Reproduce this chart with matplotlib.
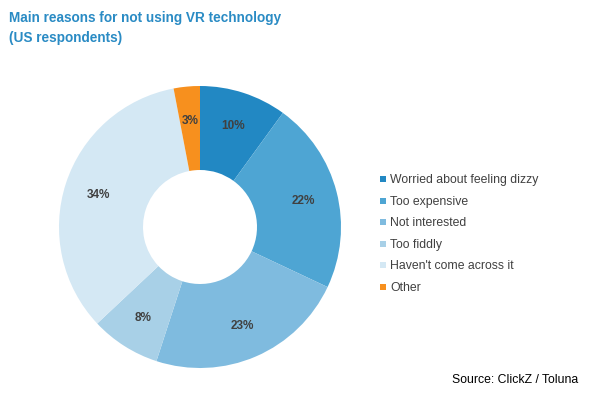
import matplotlib.pyplot as plt
from matplotlib.patches import Rectangle
import numpy as np

plt.rcParams['font.family'] = ['Liberation Sans', 'DejaVu Sans']

reasons = ["Worried about feeling dizzy", "Too expensive", "Not interested",
           "Too fiddly", "Haven't come across it", "Other"]
shares = [10, 22, 23, 8, 34, 3]
colors = ["#2288c3", "#4ea5d3", "#7fbbdf", "#a8d0e7", "#d4e8f4", "#f7901e"]

fig = plt.figure(figsize=(6, 4.06), dpi=100)
W, H = 600, 406
cx, cy, r = 200, 228, 145
ax = fig.add_axes([(cx - r) / W, (H - cy - r) / H, 2 * r / W, 2 * r / H])

wedges, _ = ax.pie(shares, colors=colors, startangle=90, counterclock=False,
                   radius=141 / 145, wedgeprops=dict(width=(141 - 57) / 145, edgecolor='none'))
ax.set_xlim(-1, 1)
ax.set_ylim(-1, 1)
ax.set_aspect('equal')

# percentage labels in the middle of each ring segment
for w, s in zip(wedges, shares):
    mid = np.deg2rad((w.theta1 + w.theta2) / 2)
    rr = 107 / 145
    ax.text(rr * np.cos(mid), rr * np.sin(mid), f"{s}%", ha='center', va='center',
            fontsize=8.5, fontweight='bold', color='#404040')

title_color = '#2a8bc4'
fig.text(9 / W, 1 - 18 / H, "Main reasons for not using VR technology",
         ha='left', va='center', fontsize=9.8, fontweight='bold', color=title_color)
fig.text(9 / W, 1 - 38 / H, "(US respondents)",
         ha='left', va='center', fontsize=9.8, fontweight='bold', color=title_color)
fig.text(1 - 22 / W, 1 - 380 / H, "Source: ClickZ / Toluna", ha='right', va='center',
         fontsize=8.8, color='black')

for i, (name, c) in enumerate(zip(reasons, colors)):
    y = 180 + i * 21.6
    fig.patches.append(Rectangle((380 / W, 1 - (y + 3) / H), 6 / W, 6 / H,
                                 transform=fig.transFigure, facecolor=c, edgecolor='none'))
    fig.text(390 / W, 1 - y / H, name, ha='left', va='center', fontsize=8.8,
             color='#404040')

fig.savefig("out.png", dpi=100)
